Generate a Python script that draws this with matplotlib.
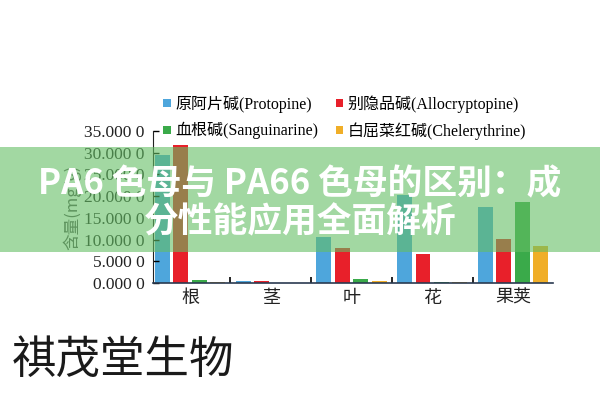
import matplotlib
matplotlib.use("Agg")
import matplotlib.pyplot as plt
import numpy as np
from matplotlib.patches import Rectangle

SERIF = ["Liberation Serif", "Noto Sans CJK SC"]
CJK = ["Noto Sans CJK SC", "DejaVu Sans"]

# data
parts = ["根", "茎", "叶", "花", "果荚"]
series_names = ["原阿片碱(Protopine)", "别隐品碱(Allocryptopine)",
                "血根碱(Sanguinarine)", "白屈菜红碱(Chelerythrine)"]
protopine = [29.5, 0.4, 10.6, 20.3, 17.5]
allocryptopine = [31.8, 0.5, 8.0, 6.7, 10.1]
sanguinarine = [0.6, 0.0, 1.0, 0.2, 18.7]
chelerythrine = [0.3, 0.05, 0.5, 0.2, 8.5]
colors = ["#4EA6DC", "#E8202A", "#3AAA4A", "#F0AE28"]

yticks = [0, 5, 10, 15, 20, 25, 30, 35]
ytick_labels = ["0.000 0", "5.000 0", "10.000 0", "15.000 0",
                "20.000 0", "25.000 0", "30.000 0", "35.000 0"]

banner_lines = ["PA6 色母与 PA66 色母的区别：成", "分性能应用全面解析"]
caption = "祺茂堂生物"

fig = plt.figure(figsize=(6, 4), dpi=100)
ax = fig.add_axes([0.255, 0.2925, 0.667, 0.38])

x = np.arange(len(parts))
step = 0.228
width = 0.185
handles = []
for i, (vals, name, c) in enumerate(zip(
        [protopine, allocryptopine, sanguinarine, chelerythrine], series_names, colors)):
    b = ax.bar(x + (i - 1.5) * step, vals, width, color=c, label=name)
    handles.append(b)

ax.set_xlim(-0.46, 4.5)
ax.set_ylim(0, 35)
ax.set_yticks(yticks)
ax.set_yticklabels(ytick_labels, fontfamily=SERIF, fontsize=12.5, color="#222222")
ax.set_xticks(x)
ax.set_xticklabels(parts, fontfamily=CJK, fontsize=13, color="#222222")
ax.set_xticks(x[:-1] + 0.5, minor=True)
ax.tick_params(axis="x", which="major", length=0, pad=4)
ax.tick_params(axis="x", which="minor", direction="in", length=4, width=1.2)
ax.tick_params(axis="y", direction="in", length=4, width=1, pad=6)
for s in ["top", "right"]:
    ax.spines[s].set_visible(False)
ax.spines["left"].set_color("#222222")
ax.spines["bottom"].set_color("#2a3a50")
ax.spines["bottom"].set_linewidth(1.2)

ax.set_ylabel("含量(mg/g)", fontfamily=CJK, fontsize=12, color="#555555", labelpad=2)

# legend fills column-wise, so order handles to get the reference rows
order = [0, 2, 1, 3]
ax.legend(handles=[handles[i] for i in order], ncol=2, loc="lower left",
          bbox_to_anchor=(0.01, 0.9), frameon=False,
          prop={"family": SERIF, "size": 11.5},
          handlelength=0.45, handleheight=0.45, handletextpad=0.3,
          columnspacing=1.1, labelspacing=0.6, borderaxespad=0.0)

# translucent green banner over the chart
fig.patches.append(Rectangle((0, 0.37), 1, 0.2625, transform=fig.transFigure,
                             facecolor=(100 / 255, 190 / 255, 100 / 255),
                             alpha=0.6, edgecolor="none", zorder=5))
fig.text(0.5, 0.54, banner_lines[0], ha="center", va="center", color="white",
         fontsize=25, fontweight="bold", fontfamily=CJK, zorder=6)
fig.text(0.5, 0.445, banner_lines[1], ha="center", va="center", color="white",
         fontsize=25, fontweight="bold", fontfamily=CJK, zorder=6)

fig.text(0.02, 0.1, caption, ha="left", va="center", color="#1a1a1a",
         fontsize=32, fontfamily=CJK)

fig.savefig("out.png", dpi=100)
